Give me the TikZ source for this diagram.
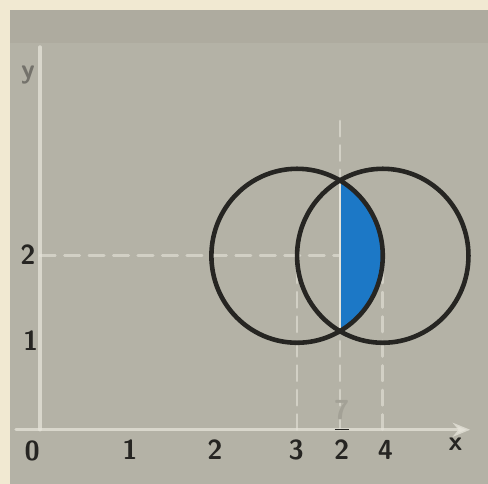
\documentclass[tikz,border=0pt]{standalone}
\usepackage{amsmath,amssymb}
\usepackage{xcolor}
\usepackage{tikz}
\usetikzlibrary{arrows.meta,positioning,calc}
\definecolor{paper}{HTML}{F1E9D2}
\definecolor{board}{HTML}{B4B2A6}
\definecolor{boardtop}{HTML}{AEAB9F}
\definecolor{chalk}{HTML}{E6E4DA}
\definecolor{lensblue}{HTML}{1C78C6}
\definecolor{ink}{HTML}{262522}
\tikzset{
    every picture/.style={line cap=round,line join=round},
    axisline/.style={draw=chalk,line width=1.1pt,opacity=0.75},
    guideline/.style={draw=chalk,line width=0.9pt,opacity=0.6,dash pattern=on 5pt off 3pt},
    ring/.style={draw=ink,line width=1.5pt},
    ticklabel/.style={text=ink,font=\sffamily\bfseries\small,inner sep=1pt},
    lens/.style={fill=lensblue}
}
\begin{document}
\begin{tikzpicture}[x=0.985cm,y=1cm]
  % page and board
  \useasboundingbox (-0.467,-0.62) rectangle (5.228,4.94);
  \fill[paper] (-0.467,-0.62) rectangle (5.228,4.94);
  \fill[board] (-0.35,-0.62) rectangle (5.228,4.82);
  \fill[boardtop] (-0.35,4.45) rectangle (5.228,4.82);
  % axes
  \coordinate (o) at (0,0);
  \coordinate (xstart) at (-0.28,0);
  \coordinate (xend) at (5.02,0);
  \coordinate (yend) at (0,4.4);
  \draw[axisline,-{Stealth[length=2mm,width=1.6mm]}] (xstart) -- (xend);
  \draw[axisline] (o) -- (yend);
  % guides
  \coordinate (g2) at (0,2);
  \coordinate (g2r) at (3.5,2);
  \coordinate (g3) at (3,0);
  \coordinate (g3t) at (3,2);
  \coordinate (g4) at (4,0);
  \coordinate (g4t) at (4,2);
  \coordinate (gm) at (3.5,0);
  \coordinate (gmt) at (3.5,3.56);
  \draw[guideline] (g2) -- (g2r);
  \draw[guideline] (g3) -- (g3t);
  \draw[guideline] (g4) -- (g4t);
  \draw[guideline] (gm) -- (gmt);
  % shaded part of the lens
  \coordinate (top) at (3.5,2.866);
  \coordinate (bot) at (3.5,1.134);
  \fill[lens] (top) arc[start angle=60,end angle=-60,radius=1] -- (bot) -- cycle;
  \draw[chalk,line width=0.8pt] (bot) -- (top);
  % circles
  \coordinate (cl) at (3,2);
  \coordinate (cr) at (4,2);
  \draw[ring] (cl) circle[radius=1];
  \draw[ring] (cr) circle[radius=1];
  % labels
  \node[ticklabel] (l0) at (-0.09,-0.24) {0};
  \node[ticklabel] (l1) at (1.05,-0.23) {1};
  \node[ticklabel] (l2) at (2.04,-0.23) {2};
  \node[ticklabel] (l3) at (2.99,-0.23) {3};
  \node[ticklabel,anchor=base] (l72) at (3.52,-0.34)
    {\shortstack{\textcolor{board!88!ink}{7}\\\rule{0.5em}{0.5pt}\\2}};
  \node[ticklabel] (l4) at (4.03,-0.23) {4};
  \node[ticklabel] (lx) at (4.85,-0.17) {x};
  \node[ticklabel] (ly1) at (-0.11,1.03) {1};
  \node[ticklabel] (ly2) at (-0.14,2.01) {2};
  \node[ticklabel,text=board!55!ink] (ly) at (-0.14,4.08) {y};
\end{tikzpicture}
\end{document}
